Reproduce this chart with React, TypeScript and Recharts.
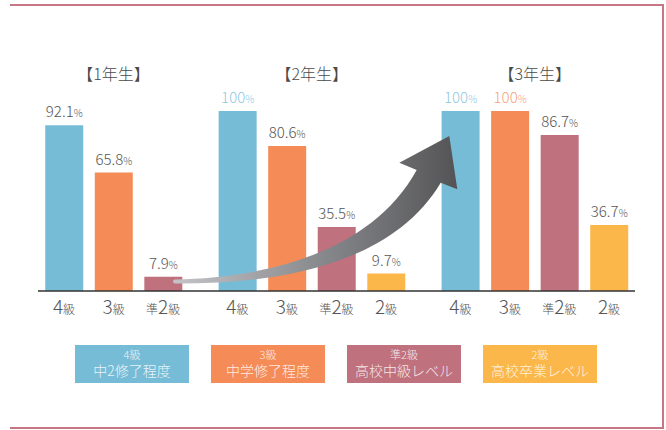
import React from 'react';
import { BarChart, Bar, XAxis, YAxis, Cell, LabelList, Legend } from 'recharts';

const groupTitles = ['【1年生】', '【2年生】', '【3年生】'];
const grades1 = ['4級', '3級', '準2級'];
const values1 = [92.1, 65.8, 7.9];
const grades2 = ['4級', '3級', '準2級', '2級'];
const values2 = [100, 80.6, 35.5, 9.7];
const grades3 = ['4級', '3級', '準2級', '2級'];
const values3 = [100, 100, 86.7, 36.7];

const legendGrades = ['4級', '3級', '準2級', '2級'];
const legendDescs = ['中2修了程度', '中学修了程度', '高校中級レベル', '高校卒業レベル'];

const gradeColors: Record<string, string> = {
  '4級': '#77bcd6',
  '3級': '#f58c57',
  '準2級': '#bf717e',
  '2級': '#fbb74a',
};
const gradeTints: Record<string, string> = {
  '4級': '#8fc9df',
  '3級': '#f6a27a',
  '準2級': '#cc8d97',
  '2級': '#fcc76e',
};

const FONT = '"Noto Sans CJK JP", "Noto Sans", sans-serif';

type Row = { pos: number; grade: string; value: number };
const groups = [
  { grades: grades1, values: values1 },
  { grades: grades2, values: values2 },
  { grades: grades3, values: values3 },
];
const table: Row[] = [];
const groupCenters: number[] = [];
{
  let cursor = 0;
  groups.forEach((g) => {
    g.grades.forEach((grade, i) => table.push({ pos: cursor + i, grade, value: g.values[i] }));
    groupCenters.push(cursor + (g.grades.length - 1) / 2);
    cursor += g.grades.length + 0.5;
  });
}
const positions = table.map((r) => r.pos);
const domain: [number, number] = [-0.525, positions[positions.length - 1] + 0.525];

const splitGrade = (g: string) => {
  const m = g.match(/^(\D*)(\d+)(級)$/);
  return m ? { prefix: m[1], digit: m[2], suffix: m[3] } : { prefix: '', digit: g, suffix: '' };
};

const GradeTick = (props: any) => {
  const { x, y, payload } = props;
  const row = table.find((r) => Math.abs(r.pos - payload.value) < 1e-6);
  if (!row) return null;
  const { prefix, digit, suffix } = splitGrade(row.grade);
  return (
    <text x={x} y={y + 15} textAnchor="middle" fill="#555" fontFamily={FONT} fontWeight={300}>
      {prefix ? <tspan fontSize={12}>{prefix}</tspan> : null}
      <tspan fontSize={19}>{digit}</tspan>
      <tspan fontSize={12}>{suffix}</tspan>
    </text>
  );
};

const TitleTick = (props: any) => {
  const { x, payload } = props;
  const idx = groupCenters.findIndex((c) => Math.abs(c - payload.value) < 1e-6);
  if (idx < 0) return null;
  return (
    <text x={x} y={80} textAnchor="middle" fill="#4a4a4a" fontSize={16} fontFamily={FONT} fontWeight={300}>
      {groupTitles[idx]}
    </text>
  );
};

const ValueLabel = (props: any) => {
  const { x, y, width, value, index } = props;
  const row = table[index] || table.find((r) => r.value === value);
  const fill = value === 100 && row ? gradeTints[row.grade] : '#555';
  return (
    <text x={x + width / 2} y={y - 8} textAnchor="middle" fill={fill} fontFamily={FONT} fontWeight={300}>
      <tspan fontSize={15}>{String(value)}</tspan>
      <tspan fontSize={10}>%</tspan>
    </text>
  );
};

const LegendContent = () => (
  <div style={{ display: 'flex', gap: 22, fontFamily: FONT }}>
    {legendGrades.map((g, i) => (
      <div
        key={g}
        style={{
          width: 114,
          height: 38,
          boxSizing: 'border-box',
          paddingTop: 2,
          background: gradeColors[g],
          color: 'rgba(255,255,255,0.85)',
          display: 'flex',
          flexDirection: 'column',
          alignItems: 'center',
          justifyContent: 'flex-start',
          fontWeight: 300,
        }}
      >
        <div style={{ fontSize: 11, lineHeight: '14px', height: 14 }}>{g}</div>
        <div style={{ fontSize: 14, lineHeight: '18px', height: 18 }}>{legendDescs[i]}</div>
      </div>
    ))}
  </div>
);

const Arrow = () => (
  <svg width={666} height={430} style={{ position: 'absolute', left: 0, top: 0, pointerEvents: 'none' }}>
    <defs>
      <linearGradient id="arrowGrad" gradientUnits="userSpaceOnUse" x1={175} y1={0} x2={457} y2={0}>
        <stop offset="0" stopColor="#c4c4c8" />
        <stop offset="0.5" stopColor="#8a8b8f" />
        <stop offset="1" stopColor="#545456" />
      </linearGradient>
    </defs>
    <path
      d="M175,279.5 C260,278 370,255 416.7,170 L399.3,162.7 L449.3,136 L457.3,189.3 L440.7,182.7 C390,268 270,284 175,283.5 A2,2 0 0 1 175,279.5 Z"
      fill="url(#arrowGrad)"
    />
  </svg>
);

export default function App() {
  return (
    <div style={{ position: 'absolute', left: 0, top: 0, width: 666, height: 430, background: '#fff' }}>
      <div
        style={{
          position: 'absolute',
          left: 10,
          top: 4,
          width: 654,
          height: 425,
          boxSizing: 'border-box',
          borderTop: '2px solid #c67785',
          borderRight: '2px solid #c67785',
          borderBottom: '2px solid #c67785',
        }}
      />
      <BarChart
        width={666}
        height={430}
        data={table}
        margin={{ top: 71, right: 31, bottom: 109, left: 38 }}
      >
        <XAxis
          xAxisId="top"
          orientation="top"
          type="number"
          dataKey="pos"
          domain={domain}
          ticks={groupCenters}
          interval={0}
          axisLine={false}
          tickLine={false}
          height={40}
          tick={<TitleTick />}
        />
        <XAxis
          type="number"
          dataKey="pos"
          domain={domain}
          ticks={positions}
          interval={0}
          tickLine={false}
          axisLine={{ stroke: '#333', strokeWidth: 1.5 }}
          height={30}
          tick={<GradeTick />}
        />
        <YAxis hide domain={[0, 100]} />
        <Legend
          layout="horizontal"
          verticalAlign="middle"
          align="center"
          content={<LegendContent />}
          wrapperStyle={{ position: 'absolute', left: 75, top: 345, width: 530 }}
        />
        <Bar dataKey="value" barSize={38} isAnimationActive={false}>
          {table.map((r) => (
            <Cell key={r.pos} fill={gradeColors[r.grade]} />
          ))}
          <LabelList dataKey="value" content={<ValueLabel />} />
        </Bar>
      </BarChart>
      <Arrow />
    </div>
  );
}
